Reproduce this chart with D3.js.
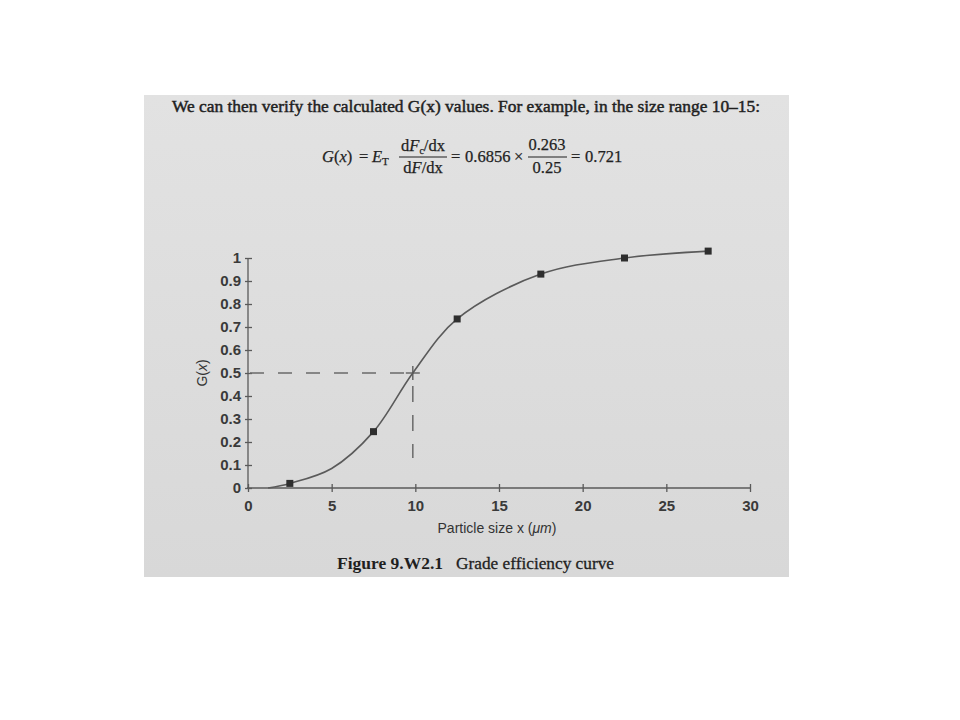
<!DOCTYPE html>
<html>
<head>
<meta charset="utf-8">
<script src="https://cdn.jsdelivr.net/npm/d3@7"></script>
<style>
  html, body { margin: 0; padding: 0; background: #ffffff; }
  svg { display: block; }
</style>
</head>
<body>
<div id="chart"></div>
<script>
// ---- data ----
const pointSize = [2.5, 7.5, 12.5, 17.5, 22.5, 27.5];          // particle size x (µm)
const pointG    = [0.02, 0.245, 0.735, 0.93, 1.0, 1.03];        // grade efficiency G(x)
const curveSize = [1.2, 2.5, 5, 7.5, 9.85, 12.5, 17.5, 22.5, 27.5];
const curveG    = [0, 0.02, 0.085, 0.245, 0.5, 0.735, 0.93, 1.0, 1.03];
const cutSize = 9.85, cutG = 0.5, cutDashBottom = 0.13;
const xTicks = [0, 5, 10, 15, 20, 25, 30];
const yTicks = [0, 0.1, 0.2, 0.3, 0.4, 0.5, 0.6, 0.7, 0.8, 0.9, 1];
const headerText = "We can then verify the calculated G(x) values. For example, in the size range 10\u201315:";
const captionBold = "Figure 9.W2.1";
const captionText = "Grade efficiency curve";
const xLabel = ["Particle size x (", "\u03bcm", ")"];

const W = 960, H = 720;
const svg = d3.select("#chart").append("svg").attr("width", W).attr("height", H);

// scanned page background
const defs = svg.append("defs");
const grad = defs.append("linearGradient").attr("id", "pg").attr("x1", 0).attr("y1", 0).attr("x2", 0).attr("y2", 1);
grad.append("stop").attr("offset", "0%").attr("stop-color", "#e2e2e2");
grad.append("stop").attr("offset", "100%").attr("stop-color", "#d8d8d8");
svg.append("rect").attr("x", 144).attr("y", 95).attr("width", 645).attr("height", 482).attr("fill", "url(#pg)");

// ---- header text ----
const serif = "Liberation Serif, 'DejaVu Serif', serif";
const ink = "#1f1f1f";
svg.append("text").attr("x", 172).attr("y", 112)
  .attr("font-family", serif).attr("font-size", 16)
  .attr("fill", ink).attr("stroke", ink).attr("stroke-width", 0.45)
  .attr("textLength", 588).attr("lengthAdjust", "spacingAndGlyphs")
  .text(headerText);

// ---- formula ----
const f = svg.append("g").attr("font-family", serif).attr("font-size", 16.5).attr("fill", ink)
  .attr("stroke", ink).attr("stroke-width", 0.25);
const t1 = f.append("text").attr("x", 322).attr("y", 162);
t1.append("tspan").attr("font-style", "italic").text("G");
t1.append("tspan").text("(");
t1.append("tspan").attr("font-style", "italic").text("x");
t1.append("tspan").text(")");
f.append("text").attr("x", 359).attr("y", 162).text("=");
const e1 = f.append("text").attr("x", 372).attr("y", 162);
e1.append("tspan").attr("font-style", "italic").text("E");
e1.append("tspan").attr("font-size", 11).attr("dy", 3).text("T");
// fraction 1
const num1 = f.append("text").attr("x", 423).attr("y", 151).attr("text-anchor", "middle");
num1.append("tspan").text("d");
num1.append("tspan").attr("font-style", "italic").text("F");
num1.append("tspan").attr("font-size", 10).attr("dy", 3).text("c");
num1.append("tspan").attr("dy", -3).text("/dx");
f.append("line").attr("x1", 399).attr("x2", 447).attr("y1", 157).attr("y2", 157).attr("stroke", ink).attr("stroke-width", 1);
const den1 = f.append("text").attr("x", 423).attr("y", 173).attr("text-anchor", "middle");
den1.append("tspan").text("d");
den1.append("tspan").attr("font-style", "italic").text("F");
den1.append("tspan").text("/dx");
f.append("text").attr("x", 451).attr("y", 162).text("=");
f.append("text").attr("x", 465).attr("y", 162).text("0.6856");
f.append("text").attr("x", 514).attr("y", 162).text("\u00d7");
// fraction 2
f.append("text").attr("x", 547).attr("y", 150).attr("text-anchor", "middle").text("0.263");
f.append("line").attr("x1", 528).attr("x2", 567).attr("y1", 157).attr("y2", 157).attr("stroke", ink).attr("stroke-width", 1);
f.append("text").attr("x", 547).attr("y", 173).attr("text-anchor", "middle").text("0.25");
f.append("text").attr("x", 571).attr("y", 162).text("=");
f.append("text").attr("x", 585).attr("y", 162).text("0.721");

// ---- chart ----
const x = d3.scaleLinear().domain([0, 30]).range([248, 750]);
const y = d3.scaleLinear().domain([0, 1]).range([488, 258]);
const axisCol = "#5a5a5a";
const sans = "Liberation Sans, Arial, sans-serif";
const chart = svg.append("g");

// x axis (ticks cross the line)
const xAxis = chart.append("g").attr("transform", `translate(0,${y(0)})`)
  .call(d3.axisBottom(x).tickValues(xTicks).tickSize(0).tickPadding(12).tickFormat(d3.format("d")));
xAxis.select(".domain").attr("stroke", axisCol).attr("stroke-width", 1.3).attr("d", `M${x(0) - 1},0H${x(30)}`);
xAxis.selectAll(".tick").append("line").attr("y1", -4).attr("y2", 4).attr("stroke", axisCol).attr("stroke-width", 1.3);
xAxis.selectAll(".tick text").attr("font-family", sans).attr("font-size", 15).attr("font-weight", "bold").attr("fill", "#3a3a3a");

// y axis
const yAxis = chart.append("g").attr("transform", `translate(${x(0)},0)`)
  .call(d3.axisLeft(y).tickValues(yTicks).tickSize(0).tickPadding(7).tickFormat(d => d3.format("")(+d.toFixed(1))));
yAxis.select(".domain").attr("stroke", axisCol).attr("stroke-width", 1.3).attr("d", `M0,${y(0)}V${y(1)}`);
yAxis.selectAll(".tick").append("line").attr("x1", -3).attr("x2", 4).attr("stroke", axisCol).attr("stroke-width", 1.3);
yAxis.selectAll(".tick text").attr("font-family", sans).attr("font-size", 15).attr("font-weight", "bold").attr("fill", "#3a3a3a");

// axis titles
const yt = chart.append("text").attr("transform", `translate(207,${y(0.5)}) rotate(-90)`)
  .attr("text-anchor", "middle").attr("font-family", sans).attr("font-size", 14).attr("fill", "#333");
yt.append("tspan").text("G(");
yt.append("tspan").attr("font-style", "italic").text("x");
yt.append("tspan").text(")");
const xt = chart.append("text").attr("x", 497).attr("y", 533).attr("text-anchor", "middle")
  .attr("font-family", sans).attr("font-size", 14).attr("fill", "#333");
xt.append("tspan").text(xLabel[0]);
xt.append("tspan").attr("font-style", "italic").text(xLabel[1]);
xt.append("tspan").text(xLabel[2]);

// dashed cut-size guides
chart.append("line").attr("x1", x(0)).attr("x2", x(cutSize)).attr("y1", y(cutG)).attr("y2", y(cutG))
  .attr("stroke", "#6a6a6a").attr("stroke-width", 1.5).attr("stroke-dasharray", "14,14").attr("stroke-dashoffset", 26);
chart.append("line").attr("x1", x(cutSize)).attr("x2", x(cutSize)).attr("y1", y(cutG)).attr("y2", y(cutDashBottom))
  .attr("stroke", "#6a6a6a").attr("stroke-width", 1.5).attr("stroke-dasharray", "16,13").attr("stroke-dashoffset", 16);
// crosshair
chart.append("line").attr("x1", x(cutSize) - 7).attr("x2", x(cutSize) + 7).attr("y1", y(cutG)).attr("y2", y(cutG))
  .attr("stroke", "#555").attr("stroke-width", 1.3);
chart.append("line").attr("x1", x(cutSize)).attr("x2", x(cutSize)).attr("y1", y(cutG) - 7).attr("y2", y(cutG) + 7)
  .attr("stroke", "#555").attr("stroke-width", 1.3);

// fitted curve
const curveData = curveSize.map((s, i) => [s, curveG[i]]);
chart.append("path").datum(curveData)
  .attr("d", d3.line().x(d => x(d[0])).y(d => y(d[1])).curve(d3.curveCatmullRom.alpha(0.5)))
  .attr("fill", "none").attr("stroke", "#5a5a5a").attr("stroke-width", 1.6);

// data markers
const pts = pointSize.map((s, i) => [s, pointG[i]]);
chart.selectAll("rect.pt").data(pts).join("rect").attr("class", "pt")
  .attr("x", d => x(d[0]) - 3.5).attr("y", d => y(d[1]) - 3.5)
  .attr("width", 7).attr("height", 7).attr("fill", "#2e2e2e");

// ---- caption ----
svg.append("text").attr("x", 337).attr("y", 569)
  .attr("font-family", serif).attr("font-size", 17.5).attr("font-weight", "bold").attr("fill", ink)
  .attr("textLength", 106).attr("lengthAdjust", "spacingAndGlyphs").text(captionBold);
svg.append("text").attr("x", 456).attr("y", 569)
  .attr("font-family", serif).attr("font-size", 17.5).attr("fill", ink)
  .attr("stroke", ink).attr("stroke-width", 0.3)
  .attr("textLength", 158).attr("lengthAdjust", "spacingAndGlyphs").text(captionText);
</script>
</body>
</html>
